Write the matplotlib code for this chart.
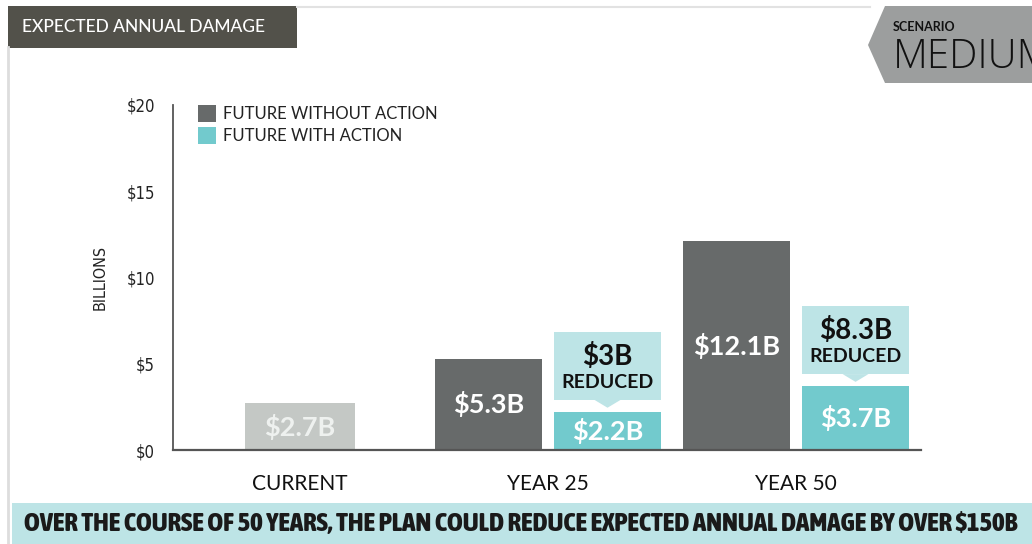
import matplotlib
matplotlib.use("Agg")
import matplotlib.pyplot as plt
from matplotlib import font_manager as fm
from matplotlib.patches import Polygon, Rectangle
import numpy as np

# dane z wykresu (miliardy USD)
categories = ["CURRENT", "YEAR 25", "YEAR 50"]
current_value = [2.7]
without_action = [5.3, 12.1]
with_action = [2.2, 3.7]
reduced_labels = ["$3B", "$8.3B"]
legend_labels = ["FUTURE WITHOUT ACTION", "FUTURE WITH ACTION"]
yticks = [0, 5, 10, 15, 20]

C_CURRENT = "#c4c8c5"
C_GRAY = "#676a6a"
C_TEAL = "#72cacd"
C_LIGHT = "#bde4e6"
C_HEADER = "#52514a"
C_SCEN = "#9c9e9e"

BODY = ["Lato", "DejaVu Sans"]


def narrow_font(weight, size):
    # szukamy zainstalowanej waskiej (condensed) czcionki o zblizonej grubosci
    cands = [f for f in fm.fontManager.ttflist
             if f.stretch in ("condensed", "semi-condensed", "extra-condensed")
             and f.style == "normal"]
    if cands:
        def w(f):
            try:
                return int(f.weight)
            except (TypeError, ValueError):
                return 400
        best = min(cands, key=lambda f: (abs(w(f) - weight), f.stretch != "condensed"))
        return fm.FontProperties(fname=best.fname, size=size)
    return fm.FontProperties(family="Roboto", weight=weight, size=size)


W, H = 1032, 544
fig = plt.figure(figsize=(W / 100, H / 100), dpi=100)

# tlo i ozdobniki w pikselach
bg = fig.add_axes([0, 0, 1, 1], zorder=0)
bg.set_xlim(0, W)
bg.set_ylim(H, 0)
bg.axis("off")
bg.plot([8, 8], [47, 544], color="#dddddd", lw=2)
bg.plot([297, 870], [7, 7], color="#e2e2e2", lw=1.5)
bg.add_patch(Rectangle((8, 6), 289, 42, color=C_HEADER, lw=0))
bg.text(22, 27, "EXPECTED ANNUAL DAMAGE", color="white", fontsize=12.5,
        family=BODY, weight="medium", va="center", ha="left")
bg.add_patch(Polygon([(868, 45), (885, 6), (1040, 6), (1040, 83), (885, 83)],
                     closed=True, color=C_SCEN, lw=0))
bg.text(893, 27, "SCENARIO", fontsize=9, weight="bold", family=BODY,
        color="#111111", va="center")
bg.text(893, 58, "MEDIUM", fontsize=29, family=["Open Sans", "Lato"], weight="light",
        color="#111111", va="center")
bg.add_patch(Rectangle((12, 503), W, 45, color=C_LIGHT, lw=0))
banner = bg.text(521, 523, "OVER THE COURSE OF 50 YEARS, THE PLAN COULD REDUCE EXPECTED ANNUAL DAMAGE BY OVER $150B",
                 fontproperties=narrow_font(800, 17), color="#1a1a1a",
                 ha="center", va="center")

# wlasciwy wykres
ax = fig.add_axes([173 / W, 1 - 450 / H, (921 - 173) / W, (450 - 105) / H], zorder=1)
ax.patch.set_alpha(0)
width = 0.435
off = 0.24
x = np.arange(len(categories))

b0 = ax.bar(x[:1], current_value, width=width * 1.02, color=C_CURRENT)
b1 = ax.bar(x[1:] - off, without_action, width=width, color=C_GRAY)
b2 = ax.bar(x[1:] + off, with_action, width=width, color=C_TEAL)

for bars, vals, col in [(b0, current_value, "#eef1ef"), (b1, without_action, "white"), (b2, with_action, "white")]:
    for b, v in zip(bars, vals):
        ax.text(b.get_x() + b.get_width() / 2, v / 2, f"${v:g}B", color=col,
                fontsize=19.5, weight="bold", family=BODY, ha="center", va="center")

# dymki "REDUCED"
for b, v, lab in zip(b2, with_action, reduced_labels):
    x0 = b.get_x()
    bw = b.get_width()
    xc = x0 + bw / 2
    y0 = v + 0.7
    h = 3.95
    ax.add_patch(Rectangle((x0, y0), bw, h, color=C_LIGHT, lw=0))
    ax.add_patch(Polygon([(xc - 0.052, y0), (xc + 0.052, y0), (xc, v + 0.25)],
                         closed=True, color=C_LIGHT, lw=0))
    ax.text(xc, y0 + h * 0.64, lab, fontsize=20, weight="bold", family=BODY,
            color="#111111", ha="center", va="center")
    ax.text(xc, y0 + h * 0.26, "REDUCED", fontsize=14, weight="bold", family=BODY,
            color="#111111", ha="center", va="center")

ax.set_xlim(-0.512, 2.504)
ax.set_ylim(0, 20)
ax.set_yticks(yticks)
ax.set_yticklabels([f"${t}" for t in yticks], fontproperties=narrow_font(400, 12), color="#222222")
ax.tick_params(axis="y", length=0, pad=13)
ax.set_xticks(x)
ax.set_xticklabels(categories, family=BODY, fontsize=15, color="#111111")
ax.tick_params(axis="x", length=0, pad=17)
for s in ["top", "right"]:
    ax.spines[s].set_visible(False)
ax.spines["left"].set_color("#555555")
ax.spines["bottom"].set_color("#555555")
ax.spines["left"].set_linewidth(1.3)
ax.spines["bottom"].set_linewidth(1.6)
ax.set_ylabel("BILLIONS", fontproperties=narrow_font(400, 11.5), color="#222222", labelpad=0)
ax.yaxis.set_label_coords(-0.088, 0.5)

# legenda recznie (kwadraty + tekst)
for i, (lab, col) in enumerate(zip(legend_labels, [C_GRAY, C_TEAL])):
    yy = 0.975 - i * 0.064
    ax.add_patch(Rectangle((0.034, yy - 0.024), 0.023, 0.048, transform=ax.transAxes,
                           color=col, lw=0, clip_on=False))
    ax.text(0.067, yy, lab, transform=ax.transAxes, fontsize=12, family=BODY,
            color="#222222", va="center")

# dopasowanie szerokosci paska tekstu
fig.canvas.draw()
ext = banner.get_window_extent()
banner.set_fontsize(banner.get_fontsize() * 995 / ext.width)

fig.savefig("out.png", dpi=100)
